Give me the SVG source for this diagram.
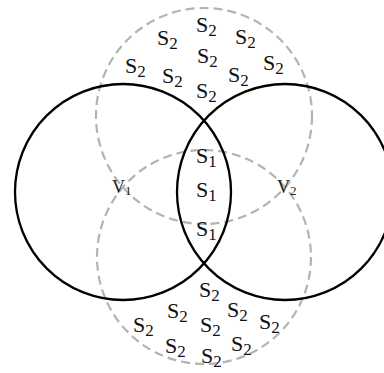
<svg xmlns="http://www.w3.org/2000/svg" width="384" height="373" viewBox="0 0 384 373">
<style>
.solid{fill:none;stroke:#000;stroke-width:2.3}
.dash{fill:none;stroke:#b3b3b3;stroke-width:2.2;stroke-dasharray:9 5}
.s{font-family:"Liberation Serif","Times New Roman",serif;font-size:22px;fill:#111}
.sub{font-size:17px}
.v{font-family:"Liberation Serif","Times New Roman",serif;font-size:18px;fill:#222}
.vsub{font-size:13px}
</style>
<rect width="384" height="373" fill="#fff"/>
<g id="dashed-circles">
<circle class="dash" cx="204" cy="116" r="108"/>
<circle class="dash" cx="204" cy="257" r="107"/>
</g>
<g id="solid-circles">
<circle id="c1" class="solid" cx="123" cy="192" r="108"/>
<circle id="c2" class="solid" cx="285" cy="192" r="108"/>
</g>
<g id="v-labels">
<text class="v" x="112" y="193">V<tspan class="vsub" dy="2">1</tspan></text>
<text class="v" x="277" y="193">V<tspan class="vsub" dy="2">2</tspan></text>
</g>
<g id="s1-labels">
<text class="s" x="196" y="163">S<tspan class="sub" dy="4">1</tspan></text>
<text class="s" x="196" y="197">S<tspan class="sub" dy="4">1</tspan></text>
<text class="s" x="196" y="236">S<tspan class="sub" dy="4">1</tspan></text>
</g>
<g id="s2-top">
<text class="s" x="196" y="32">S<tspan class="sub" dy="4">2</tspan></text>
<text class="s" x="157" y="45">S<tspan class="sub" dy="4">2</tspan></text>
<text class="s" x="235" y="44">S<tspan class="sub" dy="4">2</tspan></text>
<text class="s" x="197" y="63">S<tspan class="sub" dy="4">2</tspan></text>
<text class="s" x="125" y="73">S<tspan class="sub" dy="4">2</tspan></text>
<text class="s" x="162" y="83">S<tspan class="sub" dy="4">2</tspan></text>
<text class="s" x="228" y="82">S<tspan class="sub" dy="4">2</tspan></text>
<text class="s" x="263" y="70">S<tspan class="sub" dy="4">2</tspan></text>
<text class="s" x="196" y="98">S<tspan class="sub" dy="4">2</tspan></text>
</g>
<g id="s2-bottom">
<text class="s" x="199" y="297">S<tspan class="sub" dy="4">2</tspan></text>
<text class="s" x="167" y="318">S<tspan class="sub" dy="4">2</tspan></text>
<text class="s" x="227" y="317">S<tspan class="sub" dy="4">2</tspan></text>
<text class="s" x="133" y="332">S<tspan class="sub" dy="4">2</tspan></text>
<text class="s" x="200" y="332">S<tspan class="sub" dy="4">2</tspan></text>
<text class="s" x="259" y="329">S<tspan class="sub" dy="4">2</tspan></text>
<text class="s" x="165" y="353">S<tspan class="sub" dy="4">2</tspan></text>
<text class="s" x="231" y="351">S<tspan class="sub" dy="4">2</tspan></text>
<text class="s" x="201" y="363">S<tspan class="sub" dy="4">2</tspan></text>
</g>
</svg>
